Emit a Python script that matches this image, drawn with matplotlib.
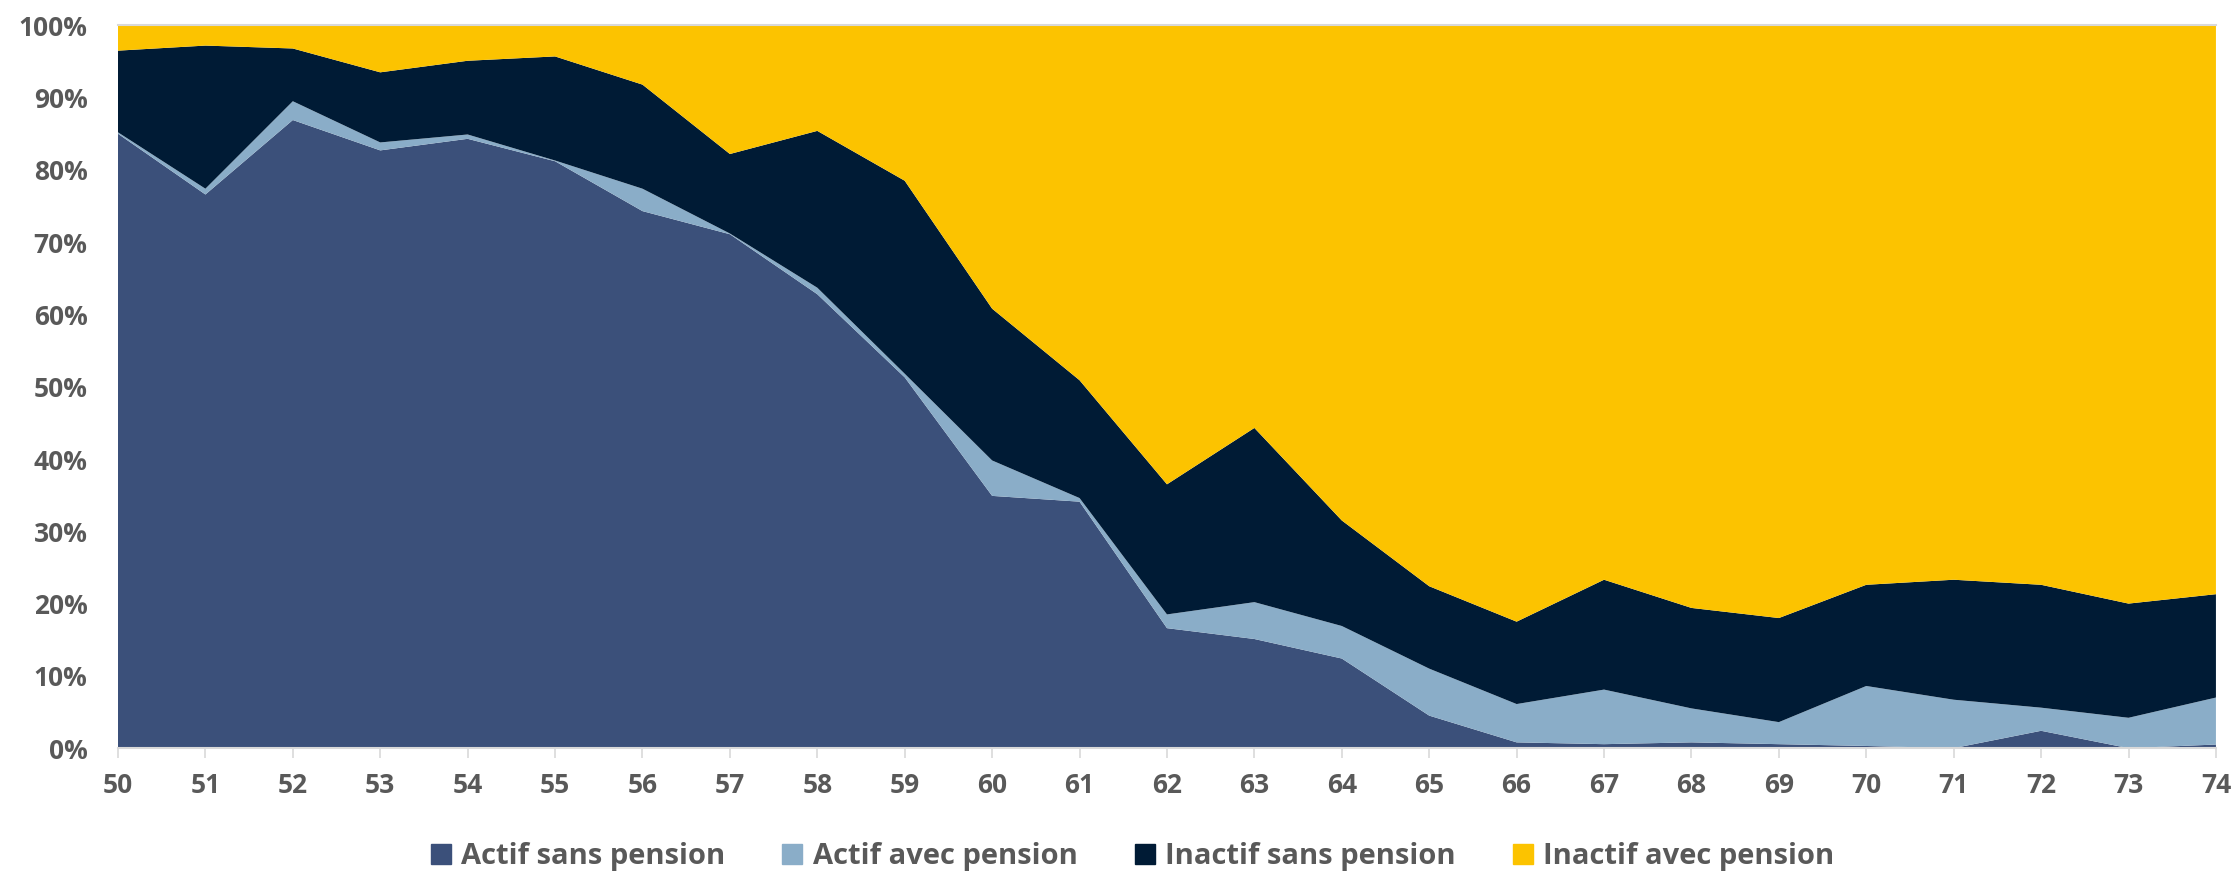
"""
Stacked area: activity / pension status by age (50-74), shares in %.
"""

import matplotlib.pyplot as plt
from matplotlib.lines import Line2D
from matplotlib.ticker import FuncFormatter

ages = list(range(50, 75))

actif_sans_pension = [85.0, 76.6, 86.9, 82.7, 84.3, 81.2, 74.3, 71.1, 62.8, 51.3,
                      34.9, 34.1, 16.6, 15.1, 12.4, 4.5, 0.8, 0.55, 0.8, 0.55,
                      0.3, 0.0, 2.4, 0.0, 0.5]
actif_avec_pension = [0.2, 0.8, 2.6, 1.1, 0.6, 0.1, 3.1, 0.1, 0.9, 0.5,
                      4.9, 0.5, 1.9, 5.1, 4.5, 6.5, 5.3, 7.55, 4.7, 3.05,
                      8.3, 6.7, 3.2, 4.2, 6.5]
inactif_sans_pension = [11.3, 19.8, 7.3, 9.7, 10.2, 14.4, 14.4, 11.0, 21.7, 26.7,
                        21.0, 16.3, 18.0, 24.1, 14.6, 11.4, 11.4, 15.2, 13.9, 14.4,
                        14.0, 16.6, 17.0, 15.8, 14.3]
inactif_avec_pension = [3.5, 2.8, 3.2, 6.5, 4.9, 4.3, 8.2, 17.8, 14.6, 21.5,
                        39.2, 49.1, 63.5, 55.7, 68.5, 77.6, 82.5, 76.7, 80.6, 82.0,
                        77.4, 76.7, 77.4, 80.0, 78.7]

labels = ["Actif sans pension", "Actif avec pension",
          "Inactif sans pension", "Inactif avec pension"]
colors = ["#3B507A", "#8AADC8", "#001B35", "#FCC300"]

TEXT_GREY = "#595959"
LINE_GREY = "#D9D9D9"

plt.rcParams["font.family"] = ["Open Sans", "DejaVu Sans"]
plt.rcParams["font.weight"] = "bold"

fig = plt.figure(figsize=(22.39, 8.74), dpi=100, facecolor="white")
ax = fig.add_axes([0.0527, 0.144, 0.937, 0.827])

ax.stackplot(ages, actif_sans_pension, actif_avec_pension,
             inactif_sans_pension, inactif_avec_pension,
             colors=colors, linewidth=0)

ax.set_xlim(50, 74)
ax.set_ylim(0, 100)
ax.set_xticks(ages)
ax.set_yticks(range(0, 101, 10))
ax.yaxis.set_major_formatter(FuncFormatter(lambda v, _: f"{v:.0f}%"))

ax.tick_params(axis="x", length=7, width=1.2, color=LINE_GREY, pad=10,
               labelsize=19, labelcolor=TEXT_GREY)
ax.tick_params(axis="y", length=0, pad=22, labelsize=19, labelcolor=TEXT_GREY)
for lbl in ax.get_xticklabels() + ax.get_yticklabels():
    lbl.set_fontweight("bold")

ax.spines["left"].set_visible(False)
ax.spines["right"].set_visible(False)
ax.spines["top"].set_color(LINE_GREY)
ax.spines["bottom"].set_color(LINE_GREY)
ax.spines["top"].set_linewidth(1.5)
ax.spines["bottom"].set_linewidth(1.5)

handles = [Line2D([], [], marker="s", linestyle="none", markersize=15,
                  markerfacecolor=c, markeredgecolor=c) for c in colors]
fig.legend(handles, labels, loc="center", bbox_to_anchor=(0.5055, 0.02),
           ncol=4, frameon=False, labelcolor=TEXT_GREY,
           handletextpad=0.3, columnspacing=1.9, handlelength=0.8,
           prop={"weight": "bold", "size": 21})

fig.savefig("out.png", dpi=100, facecolor="white")
